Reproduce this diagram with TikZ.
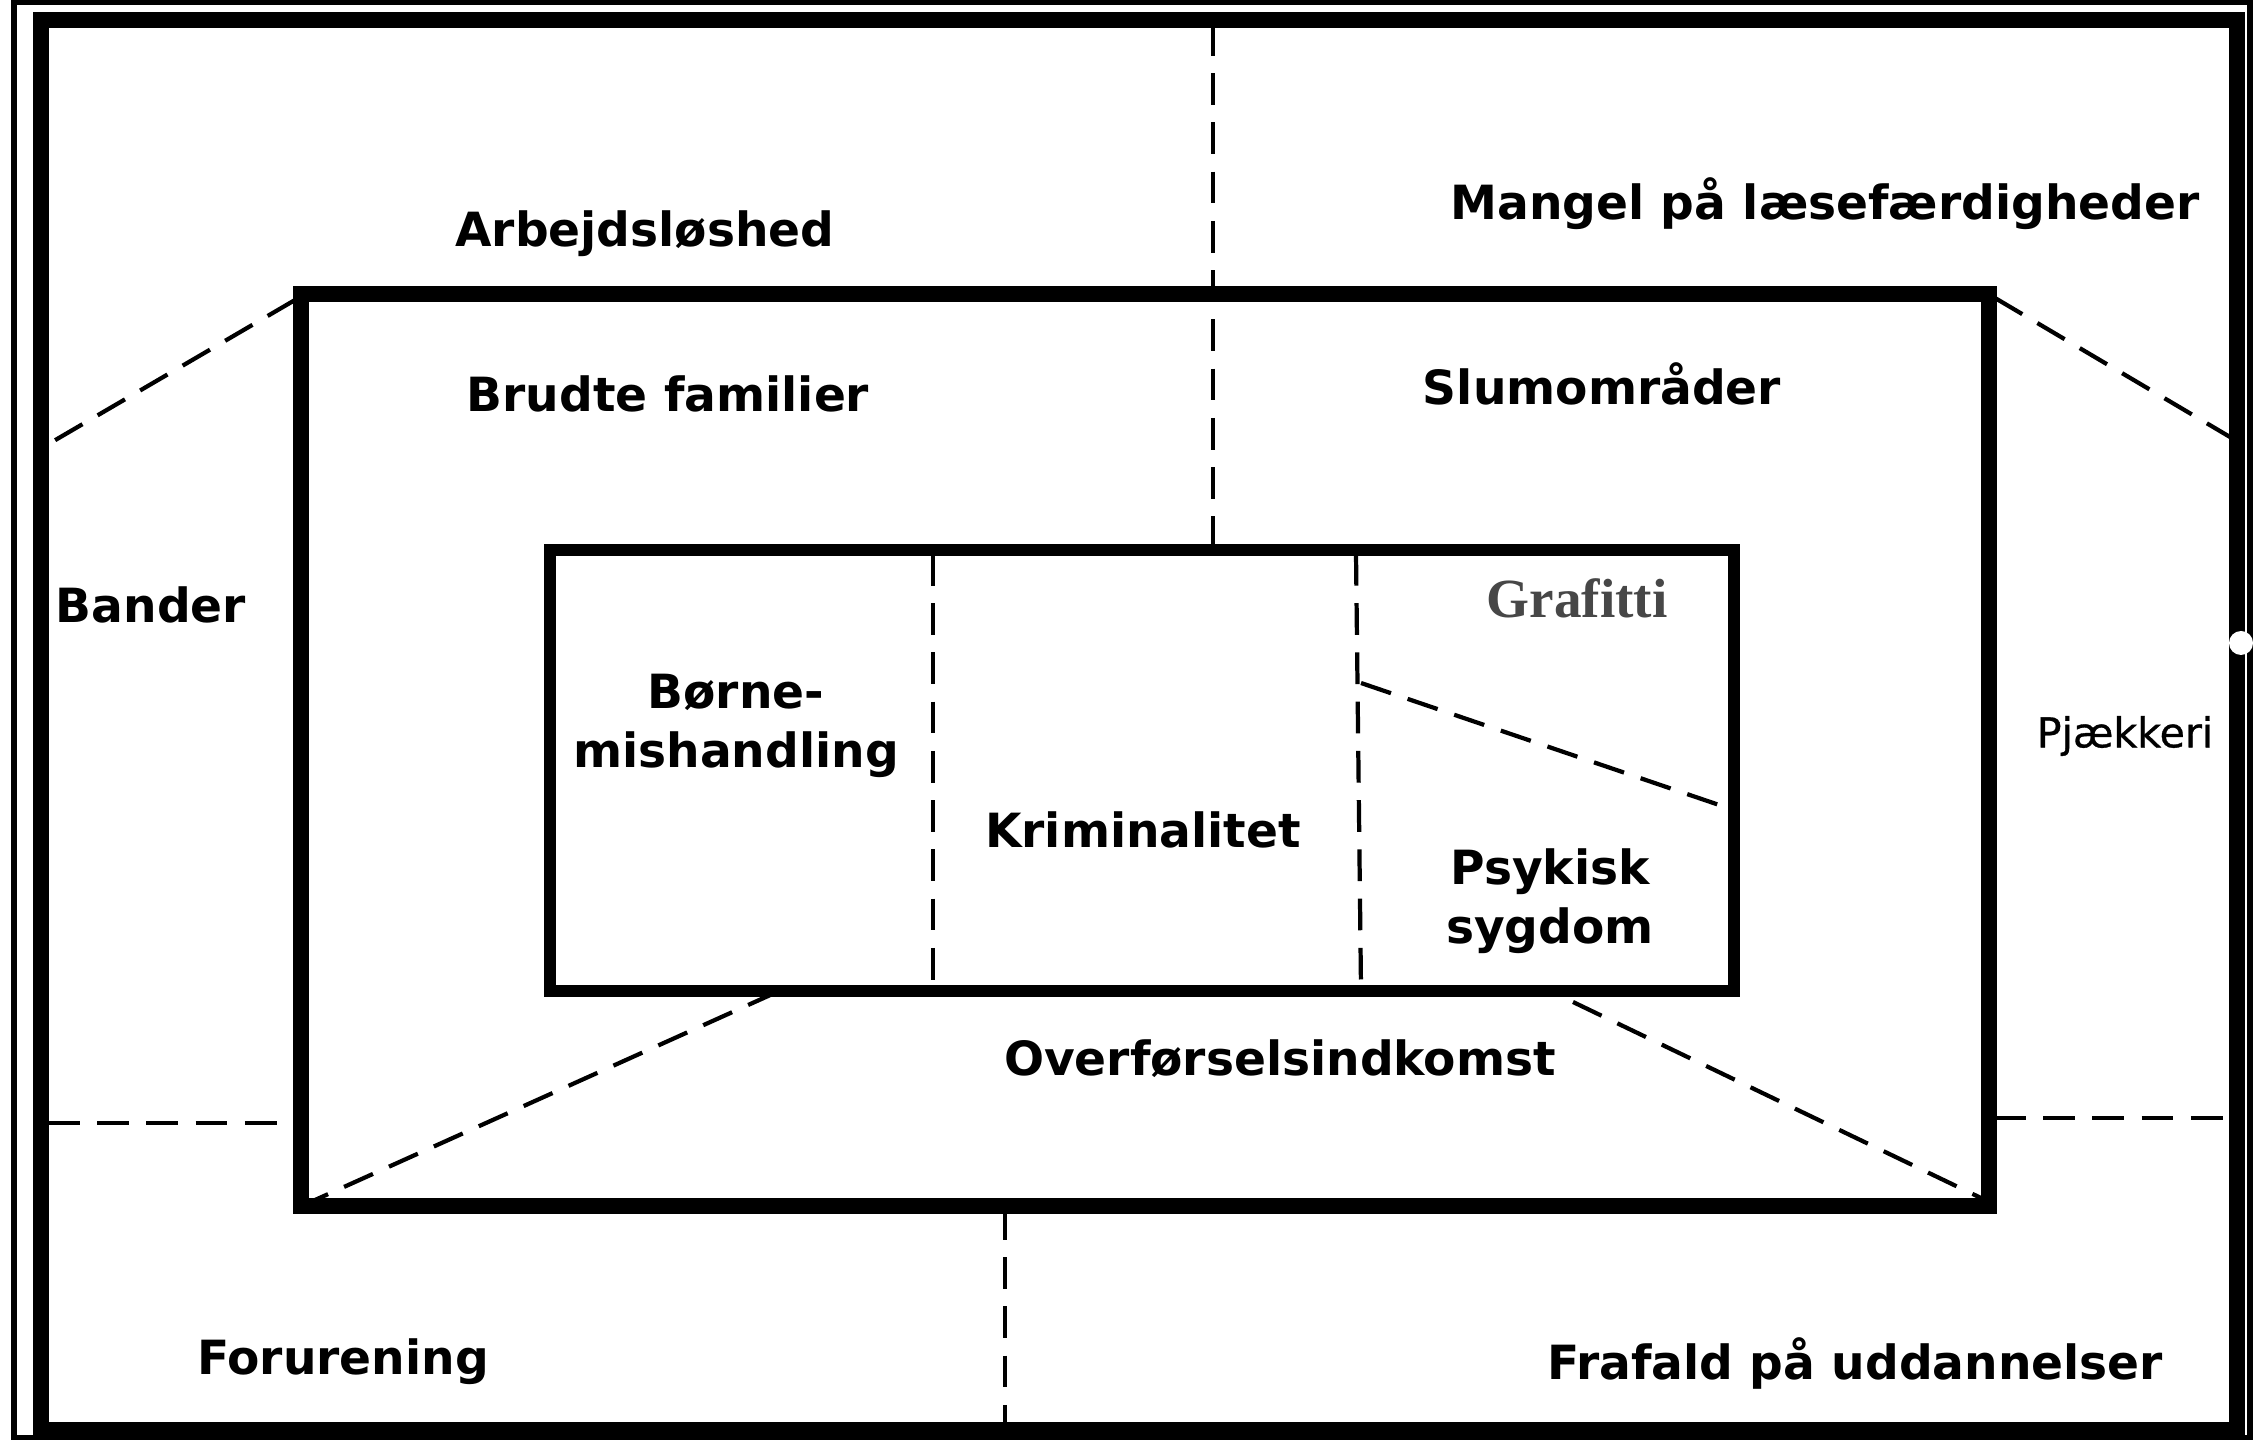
\documentclass[tikz,border=0pt]{standalone}
\usepackage{fontspec}
\setmainfont{DejaVu Sans}
\newfontfamily\grafserif{Liberation Serif}
\newfontfamily\pjfont{DejaVu Sans}[FakeBold=0.8]
\begin{document}
\begin{tikzpicture}[x=0.01cm,y=-0.01cm,
  lbl/.style={font=\bfseries\fontsize{13.4}{16.8}\selectfont, align=center, inner sep=0pt, anchor=center},
  small/.style={font=\pjfont\fontsize{11.7}{14}\selectfont, inner sep=0pt},
  graf/.style={font=\grafserif\bfseries\fontsize{15.7}{18}\selectfont, text=black!72, inner sep=0pt},
  thinframe/.style={line width=1.6pt},
  outerframe/.style={line width=4.3pt},
  midframe/.style={line width=4.3pt},
  innerframe/.style={line width=3.6pt},
  dline/.style={line width=1.2pt, dash pattern=on 9pt off 5pt}]
\useasboundingbox (0,0) rectangle (2257,1440);
\fill[white] (0,0) rectangle (2257,1440);
% outermost thin frame
\draw[thinframe] (14,2) rectangle (2250,1438);
% frames
\coordinate (oTL) at (41,20);  \coordinate (oBR) at (2237,1430);
\coordinate (mTL) at (301,294); \coordinate (mBR) at (1989,1206);
\coordinate (iTL) at (550,550); \coordinate (iBR) at (1734,991);
\draw[outerframe] (oTL) rectangle (oBR);
% dashed dividers
\coordinate (tcA) at (1213,24);  \coordinate (tcB) at (1213,546);
\coordinate (ulA) at (295,300);  \coordinate (ulB) at (52,442);
\coordinate (urA) at (1995,298); \coordinate (urB) at (2230,437);
\coordinate (lhA) at (48,1123);  \coordinate (lhB) at (296,1123);
\coordinate (rhA) at (1994,1118);\coordinate (rhB) at (2232,1118);
\coordinate (llA) at (777,992);  \coordinate (llB) at (315,1200);
\coordinate (lrA) at (1573,1002);\coordinate (lrB) at (1981,1198);
\coordinate (bcA) at (1005,1208);\coordinate (bcB) at (1005,1426);
\coordinate (v1A) at (933,554);  \coordinate (v1B) at (933,988);
\coordinate (v2A) at (1356,554); \coordinate (v2B) at (1361,988);
\coordinate (dgA) at (1361,683); \coordinate (dgB) at (1728,808);
\foreach \a/\b in {tcA/tcB,ulA/ulB,urA/urB,lhA/lhB,rhA/rhB,llA/llB,lrA/lrB,bcA/bcB,v1A/v1B,v2A/v2B,dgA/dgB}
  \draw[dline] (\a) -- (\b);
\draw[midframe] (mTL) rectangle (mBR);
\draw[innerframe] (iTL) rectangle (iBR);
% notch artefact on right frame
\fill[white] (2241,643) circle (12);
% labels
\node[lbl] (arb) at (645,234) {Arbejdsløshed};
\node[lbl] (man) at (1825,204) {Mangel på læsefærdigheder};
\node[lbl] (bru) at (668,394) {Brudte familier};
\node[lbl] (slu) at (1602,384) {Slumområder};
\node[lbl] (ban) at (151,605) {Bander};
\node[small] (pja) at (2125,736) {Pjækkeri};
\node[graf] (gra) at (1577,598) {Grafitti};
\node[lbl] (bor) at (736,726) {Børne-\\mishandling};
\node[lbl] (kri) at (1143,830) {Kriminalitet};
\node[lbl] (psy) at (1550,901) {Psykisk\\sygdom};
\node[lbl] (ove) at (1280,1059) {Overførselsindkomst};
\node[lbl] (for) at (343,1362) {Forurening};
\node[lbl] (fra) at (1855,1363) {Frafald på uddannelser};
\end{tikzpicture}
\end{document}
